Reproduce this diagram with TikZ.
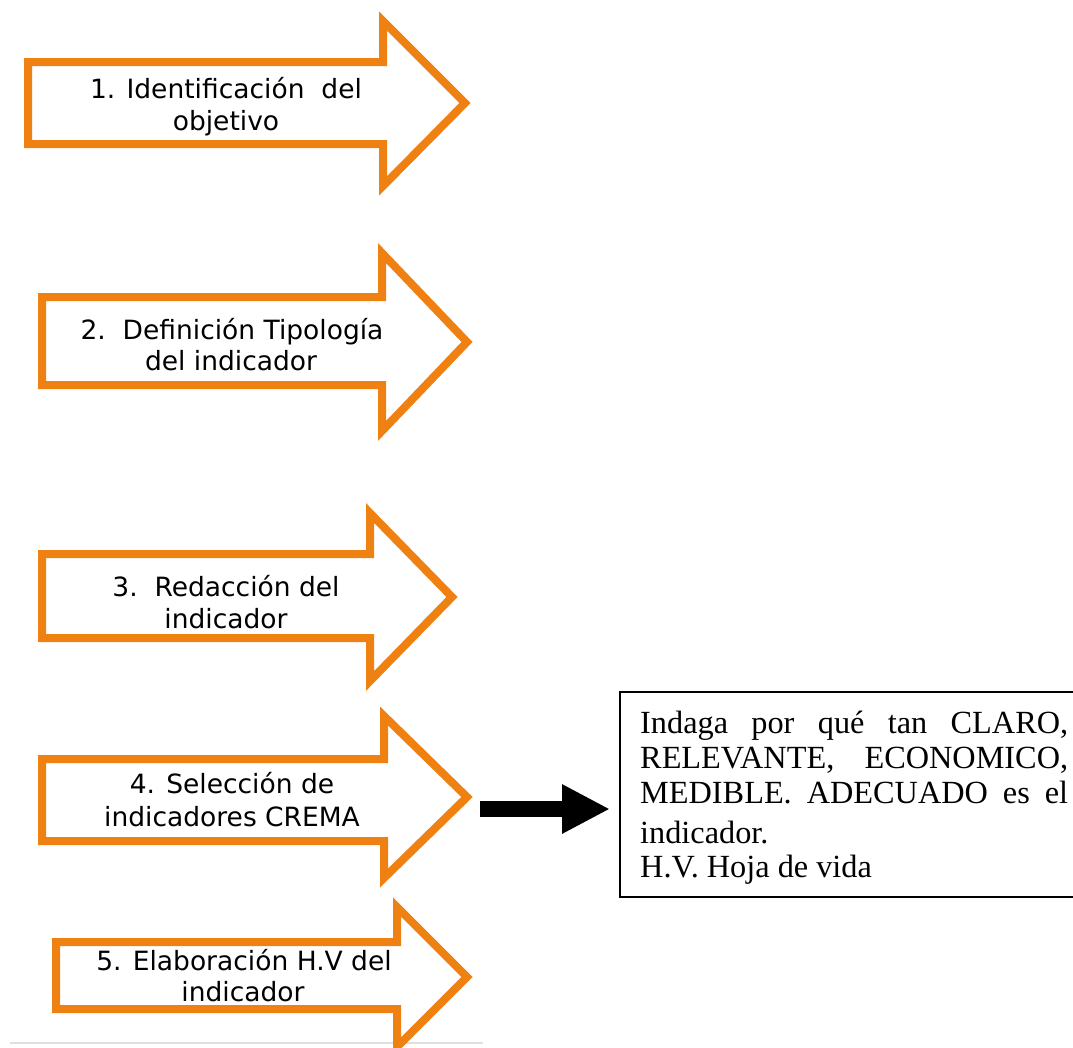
\documentclass[tikz,border=0pt]{standalone}
\usepackage{fontspec}
\setmainfont{Liberation Serif}
\newfontfamily\arrowfont{DejaVu Sans}
\usetikzlibrary{arrows.meta}
\definecolor{stepor}{RGB}{239,128,18}
\tikzset{
  steparrow/.style={draw=stepor, line width=8pt, line join=miter, fill=white},
  steplbl/.style={anchor=base, inner sep=0pt, font=\arrowfont\fontsize{26.5}{31}\selectfont},
  boxline/.style={anchor=base west, inner sep=0pt, font=\fontsize{32.3}{35}\selectfont},
  notebox/.style={draw=black, line width=2pt, minimum width=470pt, minimum height=205pt, inner sep=0pt},
  blackarrow/.style={line width=16pt, -{Triangle[length=48pt,width=46pt]}, black}
}
\begin{document}
\begin{tikzpicture}[x=1pt,y=-1pt]
\useasboundingbox (0,0) rectangle (1073,1047);
\clip (0,0) rectangle (1073,1047);
% light page edge line
\draw[gray!25, line width=2pt] (10,1043) -- (483,1043);
% step arrows
\draw[steparrow] (28,62) -- (383,62) -- (383,21) -- (465,103) -- (383,186) -- (383,144) -- (28,144) -- cycle;
\draw[steparrow] (42,297) -- (382,297) -- (382,253) -- (467,342) -- (382,431) -- (382,385) -- (42,385) -- cycle;
\draw[steparrow] (42,554) -- (370,554) -- (370,513) -- (452,597) -- (370,681) -- (370,638) -- (42,638) -- cycle;
\draw[steparrow] (42,759) -- (384,759) -- (384,716) -- (467,797) -- (384,878) -- (384,841) -- (42,841) -- cycle;
\draw[steparrow] (56,942) -- (397,942) -- (397,907) -- (467,977) -- (397,1047) -- (397,1009) -- (56,1009) -- cycle;
% labels
\node[steplbl] (t1a) at (226,98) {1. Identificación\ \ del};
\node[steplbl] (t1b) at (226,130) {objetivo};
\node[steplbl] (t2a) at (232,339) {2.\ \ Definición Tipología};
\node[steplbl] (t2b) at (231,370) {del indicador};
\node[steplbl] (t3a) at (226,596) {3.\ \ Redacción del};
\node[steplbl] (t3b) at (226,628) {indicador};
\node[steplbl] (t4a) at (232,793) {4. Selección de};
\node[steplbl] (t4b) at (232,826) {indicadores CREMA};
\node[steplbl] (t5a) at (244,970) {5. Elaboración H.V del};
\node[steplbl] (t5b) at (243,1001) {indicador};
% note box
\node[notebox] (box) at (855,794.5) {};
\node[boxline] (n1) at (640,733) {\makebox[428pt][s]{Indaga por qué tan CLARO,}};
\node[boxline] (n2) at (640,768) {\makebox[428pt][s]{RELEVANTE, ECONOMICO,}};
\node[boxline] (n3) at (640,803) {\makebox[428pt][s]{MEDIBLE. ADECUADO es el}};
\node[boxline] (n4) at (640,843) {indicador.};
\node[boxline] (n5) at (640,877) {H.V. Hoja de vida};
% black connector
\coordinate (bs) at (480,809);
\coordinate (be) at (610,809);
\draw[blackarrow] (bs) -- (be);
\end{tikzpicture}
\end{document}
